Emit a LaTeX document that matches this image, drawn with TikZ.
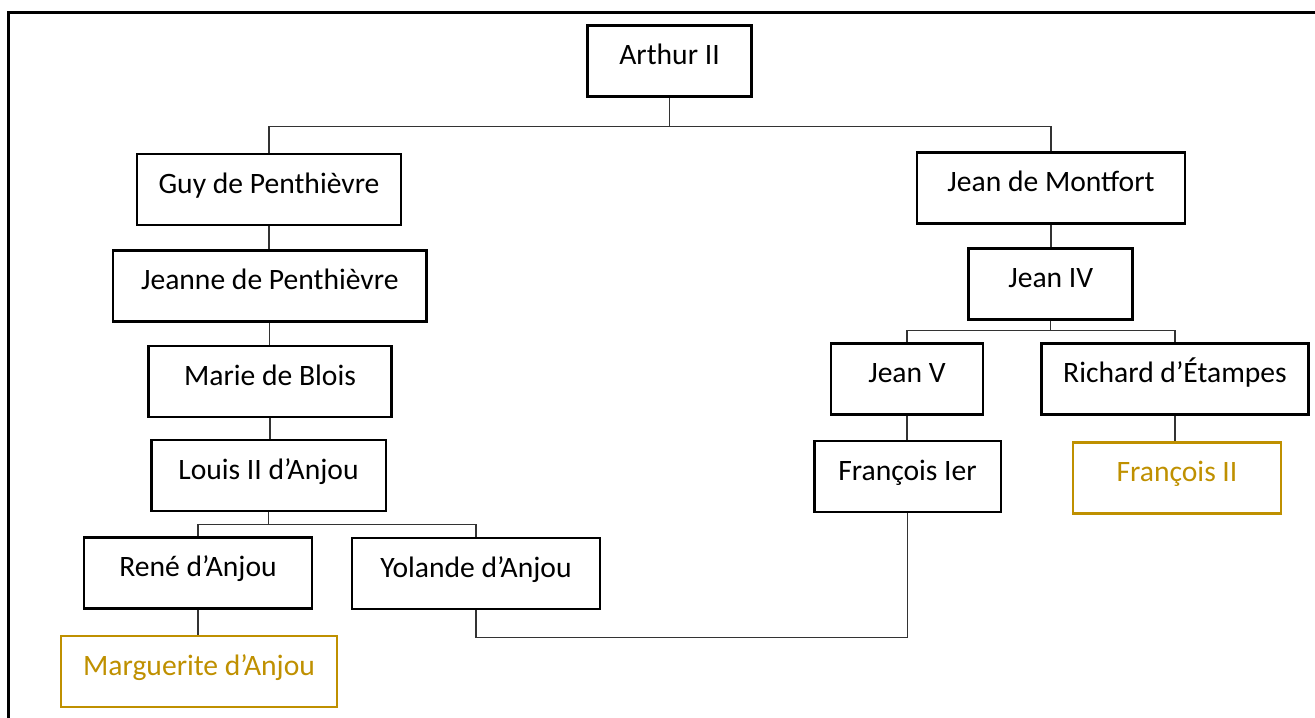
\documentclass[tikz,border=0pt]{standalone}
\usepackage{fontspec}
\setmainfont{Carlito}
\usepackage{tikz}
\definecolor{gold}{HTML}{BF9000}

\begin{document}
\begin{tikzpicture}[
  x=0.75pt, y=-0.75pt,
  person/.style={draw, line width=2pt, inner sep=0pt, align=center,
                 text height=29.25pt, text depth=24pt,
                 font=\fontsize{22.2}{26}\selectfont},
  heir/.style={person, draw=gold, text=gold},
  link/.style={line width=0.9pt, draw=black!80}
]
\useasboundingbox (0,0) rectangle (1315,718);
\draw[line width=2.2pt] (8.5,730) |- (1330,12.5);

\node[person, minimum width=123pt] (arthur) at (669.5,61.2) {Arthur II};

\node[person, minimum width=198pt] (guy) at (269,189.5) {Guy de Penthièvre};
\node[person, minimum width=201pt] (montfort) at (1051,188) {Jean de Montfort};
\node[person, minimum width=235pt] (jeanne) at (269.8,286) {Jeanne de Penthièvre};
\node[person, minimum width=123pt] (jeaniv) at (1050.8,283.7) {Jean IV};
\node[person, minimum width=182pt] (marie) at (270,381.5) {Marie de Blois};
\node[person, minimum width=114pt] (jeanv) at (907,379) {Jean V};
\node[person, minimum width=200pt] (richard) at (1175,379) {Richard d’Étampes};
\node[person, minimum width=176pt] (louis) at (268.5,475.5) {Louis II d’Anjou};
\node[person, minimum width=140pt] (francois1) at (907.5,476.5) {François Ier};
\node[heir, minimum width=156pt] (francois2) at (1177,478) {François II};
\node[person, minimum width=171pt] (rene) at (198,573) {René d’Anjou};
\node[person, minimum width=186pt] (yolande) at (476,573.5) {Yolande d’Anjou};
\node[heir, minimum width=207pt] (marguerite) at (199,671.5) {Marguerite d’Anjou};

% branches
\coordinate (busA) at (arthur.south |- 0,126.7);
\coordinate (busB) at (louis.south |- 0,524.3);
\coordinate (busC) at (jeaniv.south |- 0,330.5);
\draw[link] (arthur.south) -- (busA);
\draw[link] (guy.north) |- (busA) -| (montfort.north);
\draw[link] (guy.south) -- (guy.south |- jeanne.north);
\draw[link] (jeanne.south) -- (jeanne.south |- marie.north);
\draw[link] (marie.south) -- (marie.south |- louis.north);
\draw[link] (louis.south) -- (busB);
\draw[link] (rene.north) |- (busB) -| (yolande.north);
\draw[link] (rene.south) -- (rene.south |- marguerite.north);
\draw[link] (montfort.south) -- (montfort.south |- jeaniv.north);
\draw[link] (jeaniv.south) -- (busC);
\draw[link] (jeanv.north) |- (busC) -| (richard.north);
\draw[link] (jeanv.south) -- (jeanv.south |- francois1.north);
\draw[link] (richard.south) -- (richard.south |- francois2.north);
\draw[link] (yolande.south) -- ++(0,27) -| (francois1.south);
\end{tikzpicture}
\end{document}
